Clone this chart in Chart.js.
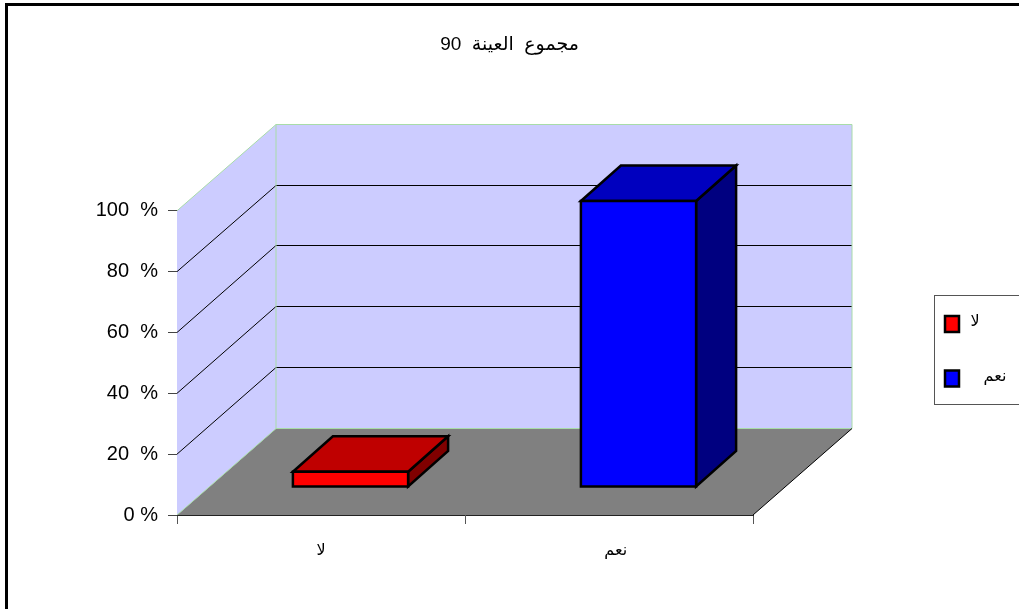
<!DOCTYPE html>
<html lang="ar">
<head>
<meta charset="utf-8">
<title>مجموع العينة 90</title>
<script src="https://cdn.jsdelivr.net/npm/chart.js@4"></script>
<style>
    html, body { margin: 0; height: 100%; overflow: hidden; background: #fff; }
    #frame { position: absolute; left: 5px; top: 3px; right: 0; bottom: 0; border-left: 3px solid #000; border-top: 3px solid #000; }
    #chart { position: absolute; left: 0; top: 0; }
</style>
</head>
<body>
<div id="frame"></div>
<canvas id="chart" width="1019" height="609"></canvas>
<script>
const chartTitle = '\u202Bمجموع  العينة  90\u202C';
const categories = ['لا', 'نعم'];
const percentValues = [5, 94];
const frontColors = ['#ff0000', '#0000ff'];
const topColors = ['#bf0000', '#0000bf'];
const sideColors = ['#800000', '#000080'];

const FONT = '"Liberation Sans", Arial, "DejaVu Sans", sans-serif';

// depth of the 3d box the axes sit on, and where the bars stand inside it
const WALL_DX = 99;
const WALL_DY = -87;
const BAR_SHIFT_X = 29.5;
const BAR_SHIFT_Y = -28;
const BAR_DX = 40;
const BAR_DY = -35.5;

function polygon(ctx, points, fill, stroke, lineWidth) {
    ctx.beginPath();
    points.forEach(([x, y], i) => (i === 0 ? ctx.moveTo(x, y) : ctx.lineTo(x, y)));
    ctx.closePath();
    if (fill) {
        ctx.fillStyle = fill;
        ctx.fill();
    }
    if (stroke) {
        ctx.strokeStyle = stroke;
        ctx.lineWidth = lineWidth;
        ctx.lineJoin = 'miter';
        ctx.stroke();
    }
}

function segment(ctx, x1, y1, x2, y2, color, lineWidth) {
    ctx.beginPath();
    ctx.moveTo(x1, y1);
    ctx.lineTo(x2, y2);
    ctx.strokeStyle = color;
    ctx.lineWidth = lineWidth;
    ctx.stroke();
}

// back wall, side wall and floor, with the gridlines folded around them
const boxPlugin = {
    id: 'box3d',
    beforeDatasetsDraw(chart) {
        const { ctx, chartArea: { left, right, top, bottom }, scales: { y } } = chart;
        const edge = '#a8dca8';
        const backLeft = left + WALL_DX;
        const backRight = right + WALL_DX;
        const backTop = Math.round(top + WALL_DY) + 0.5;
        const backBottom = Math.round(bottom + WALL_DY) + 0.5;
        ctx.save();
        polygon(ctx, [[left, bottom], [backLeft, backBottom], [backRight, backBottom], [right, bottom]], '#808080');
        polygon(ctx, [[left, bottom], [left, top], [backLeft, backTop], [backLeft, backBottom]], '#ccccff');
        polygon(ctx, [[backLeft, backTop], [backRight, backTop], [backRight, backBottom], [backLeft, backBottom]], '#ccccff');

        y.ticks.forEach((tick) => {
            if (tick.value === 0 || tick.value === y.max) {
                return;
            }
            const py = y.getPixelForValue(tick.value);
            const backY = Math.round(py + WALL_DY) + 0.5;
            segment(ctx, left, py, backLeft, backY, '#000', 1);
            segment(ctx, backLeft, backY, backRight, backY, '#000', 1);
        });

        segment(ctx, left, top, backLeft, backTop, edge, 1);
        segment(ctx, backLeft, backTop, backRight, backTop, edge, 1);
        segment(ctx, backRight, backTop, backRight, backBottom, edge, 1);
        segment(ctx, backLeft, backTop, backLeft, backBottom, edge, 1);
        segment(ctx, left, bottom, backLeft, backBottom, edge, 1);
        segment(ctx, backLeft, backBottom, backRight, backBottom, edge, 1);
        segment(ctx, right, bottom, backRight, backBottom, '#000', 1);
        ctx.restore();
    },
    // bars are extruded from the geometry of the library's own elements
    beforeDatasetDraw(chart, args) {
        const { ctx } = chart;
        args.meta.data.forEach((bar, i) => {
            const halfWidth = bar.width / 2;
            const x1 = bar.x - halfWidth + BAR_SHIFT_X;
            const x2 = bar.x + halfWidth + BAR_SHIFT_X;
            const yTop = bar.y + BAR_SHIFT_Y;
            const yBase = bar.base + BAR_SHIFT_Y;
            ctx.save();
            polygon(ctx, [[x2, yBase], [x2, yTop], [x2 + BAR_DX, yTop + BAR_DY], [x2 + BAR_DX, yBase + BAR_DY]], sideColors[i], '#000', 2.5);
            polygon(ctx, [[x1, yTop], [x1 + BAR_DX, yTop + BAR_DY], [x2 + BAR_DX, yTop + BAR_DY], [x2, yTop]], topColors[i], '#000', 2.5);
            polygon(ctx, [[x1, yBase], [x1, yTop], [x2, yTop], [x2, yBase]], frontColors[i], '#000', 2.5);
            ctx.restore();
        });
        return false;
    },
    afterDraw(chart) {
        const { ctx } = chart;
        const rows = [
            { swatchY: 324, textX: 975, textY: 322 },
            { swatchY: 378.5, textX: 995, textY: 377 }
        ];
        ctx.save();
        ctx.strokeStyle = '#555';
        ctx.lineWidth = 1;
        ctx.strokeRect(934.5, 295.5, 100, 109);
        ctx.font = '16px ' + FONT;
        ctx.textAlign = 'center';
        ctx.textBaseline = 'middle';
        categories.forEach((label, i) => {
            const row = rows[i];
            polygon(ctx, [[945, row.swatchY - 8], [959, row.swatchY - 8], [959, row.swatchY + 8], [945, row.swatchY + 8]], frontColors[i], '#000', 2.5);
            ctx.fillStyle = '#000';
            ctx.fillText(label, row.textX, row.textY);
        });
        ctx.restore();
    }
};

new Chart(document.getElementById('chart'), {
    type: 'bar',
    data: {
        labels: categories,
        datasets: [{
            data: percentValues,
            backgroundColor: frontColors,
            barPercentage: 0.4,
            categoryPercentage: 1
        }]
    },
    options: {
        responsive: false,
        animation: false,
        plugins: {
            legend: { display: false },
            tooltip: { enabled: false },
            title: {
                display: true,
                text: chartTitle,
                color: '#000',
                font: { family: FONT, size: 19, weight: 'normal', lineHeight: 1.2 },
                padding: { top: 33, bottom: 155 }
            }
        },
        scales: {
            x: {
                offset: true,
                afterFit: (scale) => { scale.height = 94; },
                border: { color: '#222', width: 1 },
                grid: { offset: true, drawOnChartArea: false, tickLength: 9, tickColor: '#555' },
                ticks: {
                    color: '#000',
                    padding: 17,
                    maxRotation: 0,
                    font: { family: FONT, size: 16 },
                    // the second label sits a little right of its band
                    callback: (value, i) => (i === 1 ? '\u00A0\u00A0\u00A0' : '') + categories[i]
                }
            },
            y: {
                min: 0,
                max: 100,
                afterFit: (scale) => { scale.width = 177; },
                border: { color: '#222', width: 1 },
                grid: { drawOnChartArea: false, tickLength: 9, tickColor: '#444' },
                ticks: {
                    stepSize: 20,
                    color: '#000',
                    padding: 10,
                    font: { family: FONT, size: 20 },
                    callback: (value) => (value === 0 ? '0 %' : value + '  %')
                }
            },
            // empty axis that reserves the strip holding the legend
            gutter: {
                type: 'linear',
                position: 'right',
                afterFit: (scale) => { scale.width = 266; },
                border: { display: false },
                grid: { display: false },
                ticks: { display: false }
            }
        }
    },
    plugins: [boxPlugin]
});
</script>
</body>
</html>
